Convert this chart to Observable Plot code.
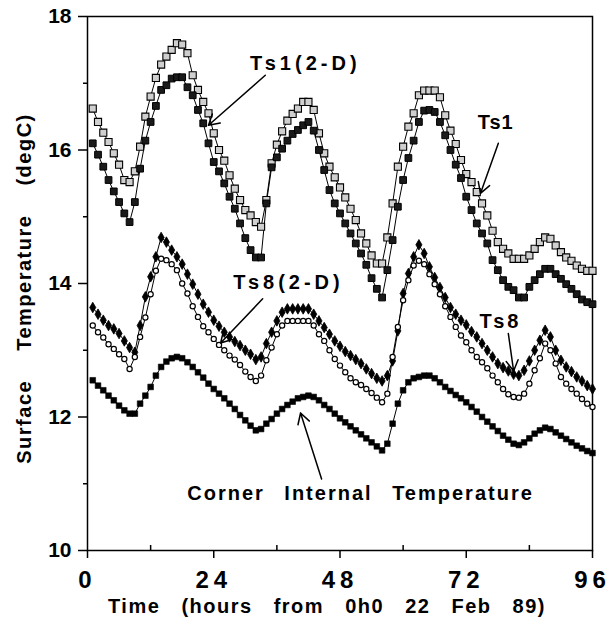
<!DOCTYPE html>
<html><head><meta charset="utf-8">
<script src="https://cdn.jsdelivr.net/npm/d3@7"></script>
<script src="https://cdn.jsdelivr.net/npm/@observablehq/plot@0.6"></script>
<style>
body{margin:0;background:#fff;}
#chart svg text{font-family:"Liberation Sans",Arial,Helvetica,sans-serif;font-weight:bold;}
</style></head><body><div id="chart"></div>
<script>
// hourly samples, hours 1..96
const hours = d3.range(1, 97);
const ts1_2d = [
16.62,16.42,16.26,16.12,15.95,15.78,15.55,15.52,15.68,16.05,16.50,16.80,
17.08,17.28,17.40,17.50,17.60,17.58,17.45,17.12,16.90,16.72,16.55,16.25,
16.00,15.84,15.62,15.42,15.25,15.10,15.02,14.92,14.85,15.25,15.80,16.08,
16.28,16.44,16.54,16.62,16.72,16.72,16.60,16.25,15.95,15.75,15.59,15.44,
15.29,15.12,14.95,14.75,14.60,14.42,14.30,14.30,14.69,15.20,15.75,16.05,
16.35,16.55,16.82,16.89,16.89,16.89,16.79,16.52,16.29,16.09,15.85,15.64,
15.52,15.37,15.20,15.02,14.79,14.62,14.52,14.45,14.37,14.37,14.37,14.42,
14.52,14.62,14.69,14.67,14.57,14.47,14.39,14.34,14.27,14.22,14.19,14.19];
const ts1 = [
16.10,15.93,15.75,15.55,15.38,15.22,15.05,14.92,15.22,15.72,16.14,16.42,
16.66,16.90,16.97,17.07,17.09,17.09,16.94,16.82,16.60,16.40,16.10,15.82,
15.68,15.50,15.30,15.12,14.90,14.68,14.50,14.39,14.39,15.20,15.74,15.89,
16.02,16.14,16.24,16.30,16.37,16.42,16.29,16.00,15.70,15.40,15.20,15.05,
14.90,14.75,14.60,14.45,14.28,14.08,13.92,13.79,14.20,14.65,15.15,15.55,
15.88,16.14,16.42,16.59,16.60,16.57,16.42,16.22,16.00,15.78,15.58,15.30,
15.10,14.90,14.75,14.60,14.35,14.20,14.05,13.95,13.90,13.79,13.79,13.95,
14.05,14.14,14.22,14.22,14.14,14.07,13.99,13.92,13.84,13.76,13.72,13.69];
const ts8_2d = [
13.64,13.54,13.45,13.37,13.32,13.25,13.14,13.04,12.97,13.37,13.80,14.10,
14.40,14.69,14.62,14.50,14.40,14.29,14.14,13.99,13.84,13.69,13.57,13.45,
13.36,13.27,13.20,13.13,13.07,13.00,12.94,12.86,12.90,13.10,13.27,13.44,
13.57,13.62,13.62,13.62,13.62,13.62,13.54,13.44,13.34,13.24,13.14,13.06,
12.98,12.92,12.86,12.80,12.72,12.65,12.58,12.54,12.62,12.84,13.29,13.85,
14.15,14.40,14.58,14.45,14.25,14.09,13.94,13.79,13.64,13.54,13.45,13.38,
13.28,13.20,13.10,13.00,12.90,12.80,12.74,12.69,12.64,12.62,12.70,12.84,
13.00,13.15,13.30,13.20,13.00,12.85,12.75,12.68,12.60,12.54,12.47,12.42];
const ts8 = [
13.37,13.27,13.19,13.09,13.02,12.94,12.87,12.72,12.90,13.20,13.49,13.84,
14.19,14.37,14.35,14.29,14.20,14.00,13.85,13.66,13.50,13.36,13.27,13.17,
13.08,13.00,12.92,12.86,12.78,12.68,12.60,12.54,12.62,12.85,13.04,13.24,
13.37,13.44,13.44,13.44,13.44,13.44,13.37,13.24,13.14,13.00,12.87,12.77,
12.67,12.58,12.52,12.48,12.42,12.36,12.29,12.22,12.35,12.90,13.35,13.75,
14.05,14.27,14.34,14.29,14.14,13.99,13.84,13.66,13.50,13.35,13.22,13.12,
13.00,12.90,12.82,12.73,12.62,12.52,12.42,12.34,12.30,12.29,12.35,12.50,
12.70,12.88,13.10,13.00,12.80,12.60,12.50,12.42,12.35,12.27,12.20,12.15];
const corner = [
12.55,12.47,12.40,12.32,12.25,12.17,12.10,12.05,12.05,12.20,12.32,12.45,
12.62,12.75,12.83,12.88,12.90,12.88,12.82,12.75,12.67,12.59,12.50,12.42,
12.35,12.28,12.20,12.12,12.03,11.95,11.87,11.80,11.82,11.90,11.97,12.05,
12.12,12.18,12.23,12.28,12.30,12.32,12.30,12.25,12.18,12.12,12.05,11.98,
11.92,11.86,11.80,11.74,11.68,11.62,11.56,11.50,11.60,11.90,12.20,12.40,
12.52,12.58,12.60,12.62,12.62,12.58,12.52,12.45,12.39,12.33,12.28,12.22,
12.15,12.08,12.00,11.93,11.86,11.79,11.72,11.66,11.60,11.58,11.62,11.68,
11.75,11.80,11.84,11.82,11.77,11.72,11.67,11.62,11.57,11.53,11.49,11.46];

const yTicks = [10, 12, 14, 16, 18];
const yMinorTicks = [11, 13, 15, 17];
const xTicks = [0, 24, 48, 72, 96];
const xMinorTicks = [12, 36, 60, 84];
const xTitle = "Time (hours from 0h0 22 Feb 89)";
const yTitle = "Surface Temperature (degC)";

// annotation labels (data coordinates)
const labelText = ["Ts1(2-D)", "Ts1", "Ts8(2-D)", "Ts8", "Corner Internal Temperature"];
const labelHour = [41.4, 77.6, 38.2, 78.5, 51.9];
const labelTemp = [17.30, 16.41, 14.01, 13.43, 10.85];
const arrowFromHour = [33.8, 78.1, 33.3, 80.0, 44.5];
const arrowFromTemp = [17.12, 16.10, 13.77, 13.25, 11.07];
const arrowToHour = [23.0, 74.7, 25.3, 81.0, 40.5];
const arrowToTemp = [16.37, 15.35, 13.11, 12.69, 12.06];

const rows = hours.map((h, i) => ({h, ts1_2d: ts1_2d[i], ts1: ts1[i], ts8_2d: ts8_2d[i], ts8: ts8[i], corner: corner[i]}));
const labels = labelText.map((t, i) => ({t, x: labelHour[i], y: labelTemp[i]}));
const arrows = labelText.map((t, i) => ({x1: arrowFromHour[i], y1: arrowFromTemp[i], x2: arrowToHour[i], y2: arrowToTemp[i]}));

const lineOpts = {x: "h", stroke: "black", strokeWidth: 1};
const plot = Plot.plot({
  width: 611, height: 629,
  marginLeft: 87, marginRight: 19, marginTop: 16, marginBottom: 79,
  x: {domain: [0, 96]},
  y: {domain: [10, 18]},
  style: {background: "#fff", color: "black", fontFamily: "Liberation Sans, Arial, sans-serif"},
  marks: [
    Plot.axisY(yTicks, {tickSize: 9, tickPadding: 7, fontSize: 21, label: null, tickFormat: d => String(d), strokeWidth: 1.5}),
    Plot.axisY(yMinorTicks, {tickSize: 4, label: null, tickFormat: () => "", strokeWidth: 1.5}),
    Plot.axisX(xTicks, {tickSize: 8, tickPadding: 12, fontSize: 24, label: null, tickFormat: d => String(d), strokeWidth: 1.5}),
    Plot.axisX(xMinorTicks, {tickSize: -5, label: null, tickFormat: () => "", strokeWidth: 1.5}),
    Plot.frame({stroke: "black", strokeWidth: 1.5}),
    Plot.line(rows, {...lineOpts, y: "ts1_2d"}),
    Plot.line(rows, {...lineOpts, y: "ts1"}),
    Plot.line(rows, {...lineOpts, y: "ts8_2d"}),
    Plot.line(rows, {...lineOpts, y: "ts8"}),
    Plot.line(rows, {...lineOpts, y: "corner"}),
    Plot.dot(rows, {x: "h", y: "ts1_2d", symbol: "square", r: 4, fill: "#cfcfcf", stroke: "black", strokeWidth: 1.1}),
    Plot.dot(rows, {x: "h", y: "ts1", symbol: "square", r: 3.8, fill: "#1a1a1a", stroke: "black", strokeWidth: 1}),
    Plot.dot(rows, {x: "h", y: "ts8_2d", symbol: "diamond", r: 3.2, fill: "black", stroke: "black", strokeWidth: 0.8}),
    Plot.dot(rows, {x: "h", y: "ts8", r: 2.6, fill: "white", stroke: "black", strokeWidth: 1.2}),
    Plot.dot(rows, {x: "h", y: "corner", symbol: "square", r: 3.2, fill: "black", stroke: "black", strokeWidth: 0.6}),
    Plot.arrow(arrows, {x1: "x1", y1: "y1", x2: "x2", y2: "y2", stroke: "black", strokeWidth: 1.5, headLength: 12}),
    Plot.text(labels, {x: "x", y: "y", text: "t", fontSize: 20, fill: "black"}),
    Plot.text([yTitle], {frameAnchor: "left", textAnchor: "middle", rotate: -90, dx: -63, dy: 5, fontSize: 20, fill: "black"}),
    Plot.text([xTitle], {frameAnchor: "bottom", textAnchor: "middle", dy: 62, dx: -13, fontSize: 20, fill: "black"})
  ]
});
document.getElementById("chart").appendChild(plot);

// typographic spacing like the original
const svg = d3.select(plot);
svg.selectAll("text").each(function() {
  const t = this.textContent;
  const s = d3.select(this);
  if (t === "Ts1(2-D)" || t === "Ts8(2-D)") s.style("letter-spacing", "4px");
  else if (t === "Ts8") s.style("letter-spacing", "3px");
  else if (t === "Ts1") s.style("letter-spacing", "1px");
  else if (t === "Corner Internal Temperature") s.style("letter-spacing", "2px").style("word-spacing", "12px");
  else if (t === yTitle) s.style("letter-spacing", "1.5px").style("word-spacing", "22px");
  else if (t === xTitle) s.style("letter-spacing", "1.5px").style("word-spacing", "14px");
});
svg.selectAll('g[aria-label="x-axis tick label"] text').style("letter-spacing", "5px").attr("dx", 0);
</script></body></html>
